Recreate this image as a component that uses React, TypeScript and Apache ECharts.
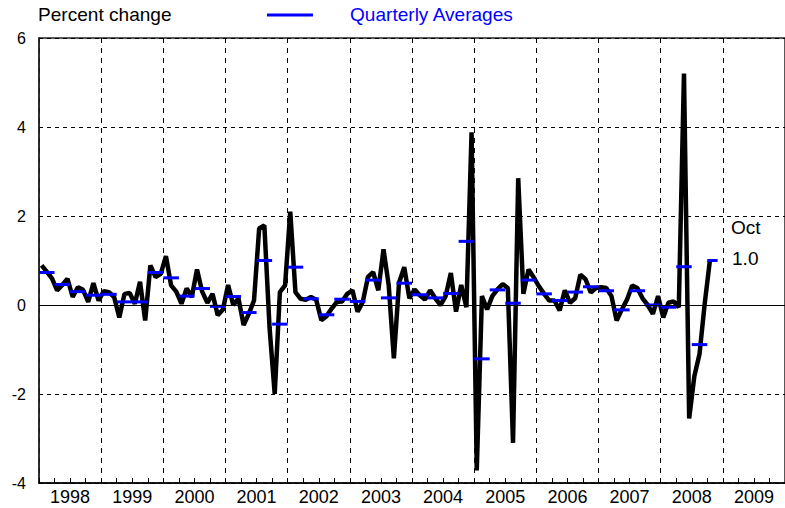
import React, { useEffect, useRef } from 'react';
import * as echarts from 'echarts';

const yearLabels = ['1998', '1999', '2000', '2001', '2002', '2003', '2004', '2005', '2006', '2007', '2008', '2009'];

const m1998 = [0.89, 0.75, 0.60, 0.33, 0.45, 0.59, 0.18, 0.40, 0.34, 0.07, 0.49, 0.10];
const m1999 = [0.31, 0.29, 0.18, -0.28, 0.25, 0.27, 0.03, 0.52, -0.35, 0.89, 0.63, 0.70];
const m2000 = [1.10, 0.44, 0.30, 0.03, 0.37, 0.18, 0.80, 0.30, 0.05, 0.25, -0.23, -0.10];
const m2001 = [0.45, 0.00, 0.15, -0.45, -0.20, 0.10, 1.72, 1.79, -0.50, -2.00, 0.29, 0.44];
const m2002 = [2.10, 0.29, 0.14, 0.12, 0.18, 0.12, -0.34, -0.25, -0.08, 0.07, 0.08, 0.25];
const m2003 = [0.33, -0.15, 0.07, 0.63, 0.74, 0.33, 1.25, 0.45, -1.20, 0.50, 0.85, 0.15];
const m2004 = [0.35, 0.22, 0.12, 0.33, 0.15, 0.00, 0.20, 0.72, -0.15, 0.45, -0.05, 3.88];
const m2005 = [-3.72, 0.20, -0.10, 0.20, 0.35, 0.47, 0.38, -3.10, 2.85, 0.25, 0.80, 0.62];
const m2006 = [0.42, 0.25, 0.10, 0.10, -0.12, 0.33, 0.05, 0.15, 0.68, 0.58, 0.28, 0.38];
const m2007 = [0.40, 0.38, 0.20, -0.35, -0.10, 0.12, 0.44, 0.38, 0.15, 0.00, -0.20, 0.20];
const m2008 = [-0.28, 0.05, 0.08, -0.05, 5.20, -2.55, -1.60, -1.10, 0.03, 1.00];

const monthly = [
  ...m1998, ...m1999, ...m2000, ...m2001, ...m2002, ...m2003,
  ...m2004, ...m2005, ...m2006, ...m2007, ...m2008,
];

const quarterlyAvg = [
  0.73, 0.46, 0.30, 0.22,
  0.24, 0.07, 0.07, 0.73,
  0.61, 0.20, 0.37, -0.03,
  0.19, -0.17, 1.00, -0.43,
  0.85, 0.14, -0.22, 0.13,
  0.08, 0.56, 0.16, 0.49,
  0.23, 0.16, 0.26, 1.43,
  -1.21, 0.34, 0.04, 0.56,
  0.25, 0.10, 0.29, 0.41,
  0.32, -0.11, 0.32, 0.00,
  -0.05, 0.86, -0.89, 1.00,
];

const yMin = -4;
const yMax = 6;
const yStep = 2;
const lastMonthName = 'Oct';

const FONT = 'Liberation Sans, Arial, Helvetica, sans-serif';

export default function App() {
  const ref = useRef<HTMLDivElement>(null);

  useEffect(() => {
    if (!ref.current) return;
    const chart = echarts.init(ref.current, null, { renderer: 'svg' });
    const lineData = monthly.map((v, i) => [i + 0.5, v]);
    const segData = quarterlyAvg.map((v, q) => [q * 3, Math.min(q * 3 + 3, monthly.length + 1), v]);
    const lastVal = monthly[monthly.length - 1];

    chart.setOption({
      animation: false,
      grid: {
        left: 39, right: -1, top: 38, bottom: 25,
        show: true, borderColor: '#222', borderWidth: 1.5, backgroundColor: 'transparent',
      },
      xAxis: [
        {
          type: 'value', min: 0, max: yearLabels.length * 12, interval: 12, position: 'bottom',
          axisLabel: { show: false },
          axisLine: { show: true, onZero: false, lineStyle: { color: '#000', width: 1.5 } },
          axisTick: { show: true, inside: true, length: 5, lineStyle: { color: '#000' } },
          minorTick: { show: true, splitNumber: 4, length: 5, lineStyle: { color: '#000' } },
          splitLine: { show: true, lineStyle: { color: '#000', width: 1, type: [5, 5] } },
        },
        {
          type: 'category', data: yearLabels, position: 'bottom', boundaryGap: true,
          axisLine: { show: false, onZero: false },
          axisTick: { show: false },
          splitLine: { show: false },
          axisLabel: { interval: 0, fontSize: 18, color: '#000', fontFamily: FONT, margin: 5 },
        },
      ],
      yAxis: {
        type: 'value', min: yMin, max: yMax, interval: yStep,
        axisLine: { show: true, onZero: false, lineStyle: { color: '#222', width: 1.5 } },
        axisTick: { show: false },
        axisLabel: { fontSize: 16, color: '#000', fontFamily: FONT, margin: 13 },
        splitLine: { show: true, lineStyle: { color: '#000', width: 1, type: [4, 4] } },
      },
      series: [
        {
          type: 'line', data: lineData, showSymbol: false, symbol: 'none',
          lineStyle: { color: '#000', width: 4.5 }, z: 2,
          markLine: {
            silent: true, symbol: 'none', label: { show: false },
            lineStyle: { color: '#000', type: 'solid', width: 1 },
            data: [{ yAxis: 0 }],
          },
        },
        {
          type: 'custom', z: 3,
          encode: { x: [0, 1], y: 2 },
          data: segData,
          renderItem: (params: any, api: any) => {
            const p1 = api.coord([api.value(0), api.value(2)]);
            const p2 = api.coord([api.value(1), api.value(2)]);
            return {
              type: 'line',
              shape: { x1: p1[0], y1: p1[1], x2: p2[0], y2: p2[1] },
              style: { stroke: '#0000ff', lineWidth: 3 },
            };
          },
        },
      ],
      graphic: [
        {
          type: 'text', x: 38, y: 14.7, scaleX: 1.06,
          style: { text: 'Percent change', fontSize: 18, fontFamily: FONT, fill: '#000', align: 'left', verticalAlign: 'middle', textAlign: 'left', textVerticalAlign: 'middle' },
        },
        {
          type: 'line', shape: { x1: 267, y1: 15, x2: 313, y2: 15 },
          style: { stroke: '#0000ff', lineWidth: 3 },
        },
        {
          type: 'text', x: 350, y: 14.7, scaleX: 1.06,
          style: { text: 'Quarterly Averages', fontSize: 18, fontFamily: FONT, fill: '#0000ff', align: 'left', verticalAlign: 'middle', textAlign: 'left', textVerticalAlign: 'middle' },
        },
        {
          type: 'text', x: 731, y: 227.5, scaleX: 1.06,
          style: { text: lastMonthName, fontSize: 18, fontFamily: FONT, fill: '#000', align: 'left', verticalAlign: 'middle', textAlign: 'left', textVerticalAlign: 'middle' },
        },
        {
          type: 'text', x: 732, y: 258.5, scaleX: 1.06,
          style: { text: lastVal.toFixed(1), fontSize: 18, fontFamily: FONT, fill: '#000', align: 'left', verticalAlign: 'middle', textAlign: 'left', textVerticalAlign: 'middle' },
        },
      ],
    });

    return () => chart.dispose();
  }, []);

  return <div ref={ref} style={{ position: 'absolute', left: 0, top: 0, width: 785, height: 508 }} />;
}
